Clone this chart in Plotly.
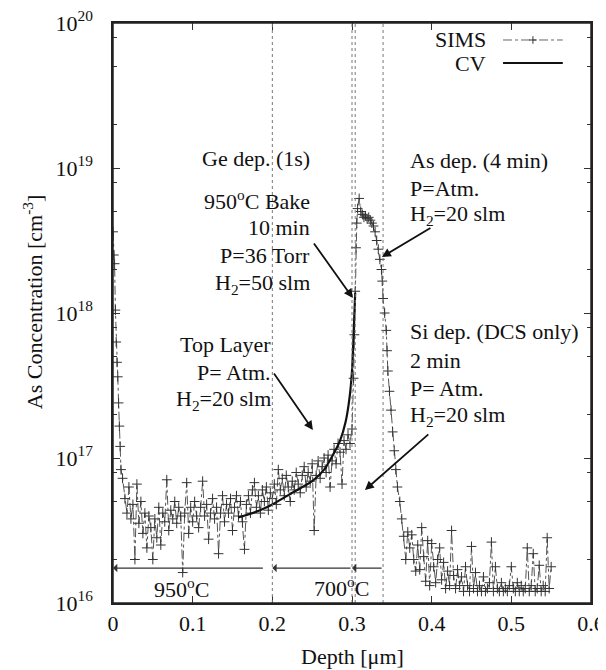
import plotly.graph_objects as go

# ---------------- data (depth in um, concentration as log10 of cm^-3) ----------------
surf_depth = [0.000, 0.001, 0.002, 0.003, 0.004, 0.005, 0.006, 0.007, 0.008, 0.009, 0.010, 0.012]
surf_log = [18.56, 18.40, 18.34, 18.02, 17.80, 17.66, 17.56, 17.38, 17.22, 17.08, 16.92, 16.86]

bulk_depth = [0.0150, 0.0175, 0.0200, 0.0225, 0.0250, 0.0275, 0.0300, 0.0325, 0.0350, 0.0375,
              0.0400, 0.0425, 0.0450, 0.0475, 0.0500, 0.0525, 0.0550, 0.0575, 0.0600, 0.0625,
              0.0650, 0.0675, 0.0700, 0.0725, 0.0750, 0.0775, 0.0800, 0.0825, 0.0850, 0.0875,
              0.0900, 0.0925, 0.0950, 0.0975, 0.1000, 0.1025, 0.1050, 0.1075, 0.1100, 0.1125,
              0.1150, 0.1175, 0.1200, 0.1225, 0.1250, 0.1275, 0.1300, 0.1325, 0.1350, 0.1375,
              0.1400, 0.1425, 0.1450, 0.1475, 0.1500, 0.1525, 0.1550, 0.1575, 0.1600, 0.1625,
              0.1650, 0.1675, 0.1700, 0.1725, 0.1750, 0.1775, 0.1800, 0.1825, 0.1850, 0.1875,
              0.1900, 0.1925, 0.1950, 0.1975, 0.2000]
bulk_log = [16.72, 16.62, 16.80, 16.58, 16.68, 16.30, 16.82, 16.55, 16.70, 16.48,
            16.62, 16.38, 16.60, 16.52, 16.30, 16.58, 16.45, 16.66, 16.40, 16.62,
            16.56, 16.85, 16.50, 16.64, 16.58, 16.70, 16.55, 16.66, 16.60, 16.21,
            16.62, 16.83, 16.48, 16.66, 16.56, 16.70, 16.60, 16.52, 16.66, 16.84,
            16.60, 16.68, 16.44, 16.62, 16.72, 16.58, 16.66, 16.34, 16.62, 16.74,
            16.56, 16.68, 16.62, 16.72, 16.50, 16.66, 16.74, 16.60, 16.70, 16.56,
            16.37, 16.68, 16.74, 16.62, 16.78, 16.83, 16.66, 16.74, 16.62, 16.78,
            16.70, 16.80, 16.64, 16.76, 16.72]

ramp_depth = [0.2025, 0.2050, 0.2075, 0.2100, 0.2125, 0.2150, 0.2175, 0.2200, 0.2225, 0.2250,
              0.2275, 0.2300, 0.2325, 0.2350, 0.2375, 0.2400, 0.2425, 0.2450, 0.2475, 0.2500,
              0.2525, 0.2550, 0.2575, 0.2600, 0.2625, 0.2650, 0.2675, 0.2700, 0.2725, 0.2750,
              0.2775, 0.2800, 0.2825, 0.2850, 0.2875, 0.2900, 0.2925, 0.2950, 0.2975, 0.3000]
ramp_log = [16.82, 16.68, 16.92, 16.78, 16.86, 16.74, 16.88, 16.80, 16.70, 16.84,
            16.78, 16.90, 16.82, 16.76, 16.88, 16.94, 16.80, 16.90, 16.84, 16.96,
            16.50, 16.88, 16.98, 16.86, 16.94, 17.00, 16.90, 17.02, 16.80, 16.98,
            17.06, 16.96, 17.10, 17.04, 16.82, 17.12, 17.06, 17.16, 17.10, 17.20]

peak_depth = [0.302, 0.303, 0.304, 0.305, 0.306, 0.307, 0.309, 0.311, 0.313, 0.315,
              0.317, 0.319, 0.321, 0.323, 0.325, 0.327, 0.329, 0.331, 0.333, 0.335,
              0.337, 0.338, 0.339, 0.341, 0.343, 0.344, 0.345, 0.347, 0.349, 0.351,
              0.353, 0.355, 0.357]
peak_log = [17.55, 17.85, 18.15, 18.45, 18.62, 18.72, 18.79, 18.70, 18.68, 18.66,
            18.67, 18.65, 18.66, 18.64, 18.62, 18.60, 18.56, 18.50, 18.44, 18.37,
            18.30, 18.22, 18.10, 18.00, 17.88, 17.74, 17.60, 17.46, 17.33, 17.18,
            17.05, 16.92, 16.80]

tail_depth = [0.3600, 0.3625, 0.3650, 0.3675, 0.3700, 0.3725, 0.3750, 0.3775, 0.3800, 0.3825,
              0.3850, 0.3875, 0.3900, 0.3925, 0.3950, 0.3975, 0.4000, 0.4025, 0.4050, 0.4075,
              0.4100, 0.4125, 0.4150, 0.4175, 0.4200, 0.4225, 0.4250, 0.4275, 0.4300, 0.4325,
              0.4350, 0.4375, 0.4400, 0.4425, 0.4450, 0.4475, 0.4500, 0.4525, 0.4550, 0.4575,
              0.4600, 0.4625, 0.4650, 0.4675, 0.4700, 0.4725, 0.4750, 0.4775, 0.4800, 0.4825,
              0.4850, 0.4875, 0.4900, 0.4925, 0.4950, 0.4975, 0.5000, 0.5025, 0.5050, 0.5075,
              0.5100, 0.5125, 0.5150, 0.5175, 0.5200, 0.5225, 0.5250, 0.5275, 0.5300, 0.5325,
              0.5350, 0.5375, 0.5400, 0.5425, 0.5450, 0.5475, 0.5500]
tail_log = [16.70, 16.58, 16.46, 16.30, 16.49, 16.38, 16.47, 16.30, 16.22, 16.40,
            16.23, 16.52, 16.32, 16.15, 16.43, 16.12, 16.41, 16.25, 16.14, 16.30,
            16.38, 16.16, 16.28, 16.10, 16.22, 16.12, 16.50, 16.19, 16.10, 16.23,
            16.12, 16.18, 16.08, 16.25, 16.12, 16.08, 16.39, 16.10, 16.21, 16.08,
            16.12, 16.08, 16.18, 16.08, 16.10, 16.14, 16.42, 16.08, 16.25, 16.10,
            16.08, 16.14, 16.08, 16.10, 16.08, 16.12, 16.25, 16.10, 16.08, 16.14,
            16.08, 16.12, 16.08, 16.10, 16.38, 16.08, 16.12, 16.34, 16.08, 16.10,
            16.26, 16.08, 16.12, 16.08, 16.45, 16.10, 16.25]

cv_depth = [0.157, 0.180, 0.200, 0.225, 0.250, 0.265, 0.275, 0.285, 0.292, 0.297, 0.300, 0.302, 0.304]
cv_log = [16.59, 16.63, 16.68, 16.76, 16.84, 16.92, 17.01, 17.12, 17.25, 17.42, 17.60, 17.85, 18.14]

x_tickvals = [0, 0.1, 0.2, 0.3, 0.4, 0.5, 0.6]
x_ticktext = ["0", "0.1", "0.2", "0.3", "0.4", "0.5", "0.6"]
y_tickvals = [1e16, 1e17, 1e18, 1e19, 1e20]
y_ticktext = ["10<sup>16</sup>", "10<sup>17</sup>", "10<sup>18</sup>", "10<sup>19</sup>", "10<sup>20</sup>"]
y_minor = [m * 10.0 ** e for e in range(16, 20) for m in (2, 5, 8)]

stage_lines = [0.2, 0.3, 0.304, 0.339]       # dotted process boundaries
temp_band_log = 16.241                        # level of the temperature arrows

sims_depth = surf_depth + bulk_depth + ramp_depth + peak_depth + tail_depth
sims_conc = [10.0 ** v for v in surf_log + bulk_log + ramp_log + peak_log + tail_log]
cv_conc = [10.0 ** v for v in cv_log]

FONT = "Liberation Serif, Times New Roman, Times, serif"
FS = 22
INK = "#111111"

fig = go.Figure()
fig.add_trace(go.Scatter(
    x=sims_depth, y=sims_conc, mode="lines+markers", name="SIMS",
    line=dict(color="#555555", width=1, dash="dashdot"),
    marker=dict(symbol="cross-thin", size=7, line=dict(color="#333333", width=1)),
    showlegend=False))
fig.add_trace(go.Scatter(
    x=cv_depth, y=cv_conc, mode="lines", name="CV",
    line=dict(color="#111111", width=2.2, shape="spline", smoothing=0.6),
    showlegend=False))

shapes = []
for xv in stage_lines:
    shapes.append(dict(type="line", xref="x", yref="paper", x0=xv, x1=xv, y0=0, y1=1,
                       line=dict(color="#777777", width=1, dash="dot")))
# temperature boxes
shapes.append(dict(type="line", xref="x", yref="y", x0=0.2, x1=0.2, y0=16, y1=temp_band_log,
                   line=dict(color=INK, width=1.5)))
shapes.append(dict(type="line", xref="x", yref="y", x0=0.339, x1=0.339, y0=16, y1=temp_band_log,
                   line=dict(color=INK, width=1.5)))
# plot frame
for (fx0, fy0, fx1, fy1) in [(0, 0, 1, 0), (0, 1, 1, 1), (0, 0, 0, 1), (1, 0, 1, 1)]:
    shapes.append(dict(type="line", xref="paper", yref="paper", x0=fx0, y0=fy0, x1=fx1, y1=fy1,
                       line=dict(color="#222222", width=1.5), layer="above"))

# legend (gnuplot style: label, then sample)
shapes.append(dict(type="line", xref="paper", yref="paper", x0=0.816, x1=0.941, y0=0.9707, y1=0.9707,
                   line=dict(color="#666666", width=1, dash="dashdot")))
shapes.append(dict(type="line", xref="paper", yref="paper", x0=0.8785 - 0.008, x1=0.8785 + 0.008,
                   y0=0.9707, y1=0.9707, line=dict(color="#333333", width=1)))
shapes.append(dict(type="line", xref="paper", yref="paper", x0=0.8785, x1=0.8785,
                   y0=0.9707 - 0.0065, y1=0.9707 + 0.0065, line=dict(color="#333333", width=1)))
shapes.append(dict(type="line", xref="paper", yref="paper", x0=0.816, x1=0.941, y0=0.931, y1=0.931,
                   line=dict(color="#111111", width=1.8)))

ann = []


def txt(x, y, s, anchor):
    ann.append(dict(x=x, y=y, xref="x", yref="y", text=s, showarrow=False, xanchor=anchor,
                    yanchor="middle", font=dict(family=FONT, size=FS, color=INK)))


txt(0.2497, 19.069, "Ge dep. (1s)", "right")
txt(0.2497, 18.779, "950<sup>o</sup>C Bake", "right")
txt(0.2497, 18.593, "10 min", "right")
txt(0.2497, 18.400, "P=36 Torr", "right")
txt(0.2497, 18.200, "H<sub>2</sub>=50 slm", "right")

txt(0.2008, 17.780, "Top Layer", "right")
txt(0.2008, 17.593, "P= Atm.", "right")
txt(0.2008, 17.400, "H<sub>2</sub>=20 slm", "right")

txt(0.370, 19.055, "As dep. (4 min)", "left")
txt(0.370, 18.862, "P=Atm.", "left")
txt(0.370, 18.676, "H<sub>2</sub>=20 slm", "left")

txt(0.370, 17.869, "Si dep. (DCS only)", "left")
txt(0.370, 17.669, "2 min", "left")
txt(0.370, 17.476, "P= Atm.", "left")
txt(0.370, 17.290, "H<sub>2</sub>=20 slm", "left")

txt(0.0866, 16.103, "950<sup>o</sup>C", "center")
txt(0.2873, 16.110, "700<sup>o</sup>C", "center")


def arrow(x0, y0, x1, y1, width=1.8, head=2, size=1.0, color=INK):
    ann.append(dict(x=x1, y=y1, ax=x0, ay=y0, xref="x", yref="y", axref="x", ayref="y",
                    text="", showarrow=True, arrowhead=head, arrowsize=size,
                    arrowwidth=width, arrowcolor=color))


arrow(0.2509, 18.490, 0.3011, 18.103)
arrow(0.4003, 18.593, 0.3375, 18.386)
arrow(0.2008, 17.593, 0.2509, 17.193)
arrow(0.3977, 17.172, 0.3162, 16.779)

arrow(0.190, temp_band_log, 0.0, temp_band_log, width=1.2, head=1, size=1.2, color="#333333")
arrow(0.300, temp_band_log, 0.2, temp_band_log, width=1.2, head=1, size=1.2, color="#333333")
arrow(0.339, temp_band_log, 0.3, temp_band_log, width=1.2, head=1, size=1.2, color="#333333")

# legend labels
ann.append(dict(x=0.7845, y=0.9707, xref="paper", yref="paper", text="SIMS", showarrow=False,
                xanchor="right", yanchor="middle", font=dict(family=FONT, size=FS, color=INK)))
ann.append(dict(x=0.7845, y=0.931, xref="paper", yref="paper", text="CV", showarrow=False,
                xanchor="right", yanchor="middle", font=dict(family=FONT, size=FS, color=INK)))

# axis titles
ann.append(dict(x=0.5, y=-0.092, xref="paper", yref="paper", text="Depth [μm]", showarrow=False,
                xanchor="center", yanchor="middle", font=dict(family=FONT, size=FS, color=INK)))
ann.append(dict(x=-0.167, y=0.519, xref="paper", yref="paper", text="As Concentration [cm<sup>-3</sup>]",
                showarrow=False, textangle=-90, xanchor="center", yanchor="middle",
                font=dict(family=FONT, size=FS, color=INK)))

# the page body adds an 8 px offset, so the left/top margins are reduced by 8 px
fig.update_layout(
    width=606, height=670,
    margin=dict(l=105, r=23, t=15, b=75, autoexpand=False),
    paper_bgcolor="white", plot_bgcolor="white",
    font=dict(family=FONT, size=FS, color=INK),
    shapes=shapes, annotations=ann,
    showlegend=False,
)
fig.update_xaxes(
    range=[0, 0.6], tickvals=x_tickvals, ticktext=x_ticktext, automargin=False,
    ticks="inside", ticklen=7, tickwidth=1, tickcolor="#333333",
    showline=True, linecolor="#222222", linewidth=1.5, mirror="ticks",
    showgrid=False, zeroline=False, ticklabeloverflow="allow",
    tickfont=dict(family=FONT, size=FS, color=INK),
)
fig.update_yaxes(
    type="log", range=[16, 20], tickvals=y_tickvals, ticktext=y_ticktext, automargin=False,
    ticks="inside", ticklen=7, tickwidth=1, tickcolor="#333333",
    minor=dict(tickvals=y_minor, ticks="inside", ticklen=4, tickcolor="#333333", showgrid=False),
    showline=True, linecolor="#222222", linewidth=1.5, mirror="ticks",
    showgrid=False, zeroline=False, ticklabelstandoff=14, ticklabeloverflow="allow",
    tickfont=dict(family=FONT, size=FS, color=INK),
)

fig.write_html("out.html")
